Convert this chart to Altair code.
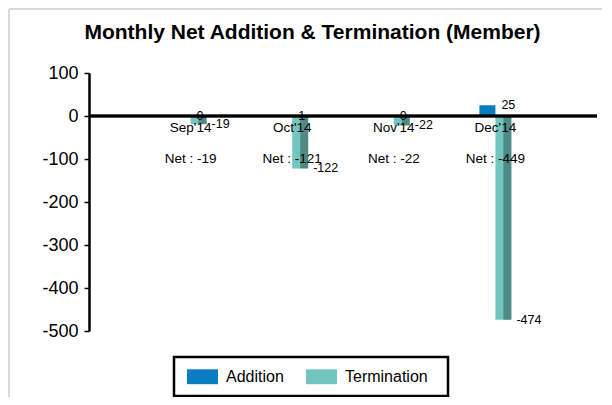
import altair as alt
import pandas as pd

months = ["Sep'14", "Oct'14", "Nov'14", "Dec'14"]
additions = [0, 1, 0, 25]
terminations = [-19, -122, -22, -474]
series = ["Addition", "Termination"]
colors = ["#0A7DC0", "#73C6C0"]
y_ticks = [100, 0, -100, -200, -300, -400, -500]
title_text = "Monthly Net Addition & Termination (Member)"

FONT = "Liberation Sans"

bars = pd.DataFrame({
    "month": months * 2,
    "series": ["Addition"] * len(months) + ["Termination"] * len(months),
    "value": additions + terminations,
})
summary = pd.DataFrame({
    "month": months,
    "add": additions,
    "term": terminations,
    "add_label": [str(a) for a in additions],
    "term_label": [str(t) for t in terminations],
    "net_label": [f"Net : {a + t}" for a, t in zip(additions, terminations)],
})

xscale = alt.Scale(domain=months, paddingInner=0.685, paddingOuter=0.8425)
yscale = alt.Scale(domain=[-500, 100], nice=False, zero=False)
yaxis = alt.Axis(values=y_ticks, title=None, grid=False, labelExpr="'' + datum.value")
x = alt.X("month:N", scale=xscale, axis=None)
xoff = alt.XOffset("series:N", scale=alt.Scale(domain=series, paddingInner=0, paddingOuter=0))

bar = alt.Chart(bars).mark_bar().encode(
    x=x,
    xOffset=xoff,
    y=alt.Y("value:Q", scale=yscale, axis=yaxis),
    color=alt.Color(
        "series:N",
        scale=alt.Scale(domain=series, range=colors),
        legend=alt.Legend(
            title=None, orient="none", legendX=98, legendY=288,
            direction="horizontal", labelFontSize=16, labelFont=FONT,
            labelColor="black", symbolType="M-1,-0.48H1V0.48H-1Z",
            symbolSize=961, symbolStrokeWidth=0, symbolOpacity=1,
            labelOffset=8, columnPadding=22, padding=0,
        ),
    ),
)

shade = alt.Chart(bars).transform_filter(
    alt.datum.series == "Termination"
).mark_bar(width=8, xOffset=12, color="black", opacity=0.3).encode(
    x=x,
    y=alt.Y("value:Q", scale=yscale, axis=yaxis),
)

zero_line = alt.Chart(summary).mark_rule(color="black", strokeWidth=2.5).encode(
    y=alt.Y(datum=0, scale=yscale, axis=yaxis),
)

cat_labels = alt.Chart(summary).mark_text(
    dy=12, fontSize=13.5, font=FONT, color="black", baseline="middle"
).encode(
    x=x,
    y=alt.Y(datum=0, scale=yscale, axis=yaxis),
    text="month:N",
)

net_labels = alt.Chart(summary).mark_text(
    dy=43, fontSize=13.5, font=FONT, color="black", baseline="middle"
).encode(
    x=x,
    y=alt.Y(datum=0, scale=yscale, axis=yaxis),
    text="net_label:N",
)

add_labels = alt.Chart(summary).mark_text(
    align="left", dx=6, fontSize=12.5, font=FONT, color="black", baseline="middle"
).encode(
    x=x,
    y=alt.Y("add:Q", scale=yscale, axis=yaxis),
    text="add_label:N",
)

term_labels = alt.Chart(summary).mark_text(
    align="left", dx=21, fontSize=12.5, font=FONT, color="black", baseline="middle"
).encode(
    x=x,
    y=alt.Y("term:Q", scale=yscale, axis=yaxis),
    text="term_label:N",
)

deco = pd.DataFrame({"title": [title_text]})
title = alt.Chart(deco).mark_text(
    fontSize=21, fontWeight="bold", font=FONT, color="black", baseline="middle",
    align="center",
).encode(x=alt.value(223.5), y=alt.value(-40), text="title:N")
legend_box = alt.Chart(deco).mark_rect(
    fillOpacity=0, stroke="black", strokeWidth=2.5
).encode(
    x=alt.value(85), x2=alt.value(359), y=alt.value(284), y2=alt.value(323)
)
frame_top = alt.Chart(deco).mark_rule(color="#D9D9D9", strokeWidth=2).encode(
    x=alt.value(-80), x2=alt.value(530), y=alt.value(-64)
)
frame_left = alt.Chart(deco).mark_rule(color="#D9D9D9", strokeWidth=2).encode(
    x=alt.value(-80), y=alt.value(-64), y2=alt.value(340)
)

chart = alt.layer(
    frame_top, frame_left, title, bar, shade, zero_line, cat_labels, net_labels,
    add_labels, term_labels, legend_box,
).properties(
    width=508,
    height=258,
    autosize=alt.AutoSizeParams(type="none"),
    padding={"left": 81, "top": 65, "right": 5, "bottom": 66},
).configure_view(
    stroke=None
).configure_axisY(
    labelFontSize=18, labelFont=FONT, labelColor="black", tickColor="black",
    tickSize=5, tickWidth=1.5, domainColor="black", domainWidth=2.5,
    labelPadding=6,
)

chart.save("out.html", embed_options={"renderer": "svg", "actions": False})
